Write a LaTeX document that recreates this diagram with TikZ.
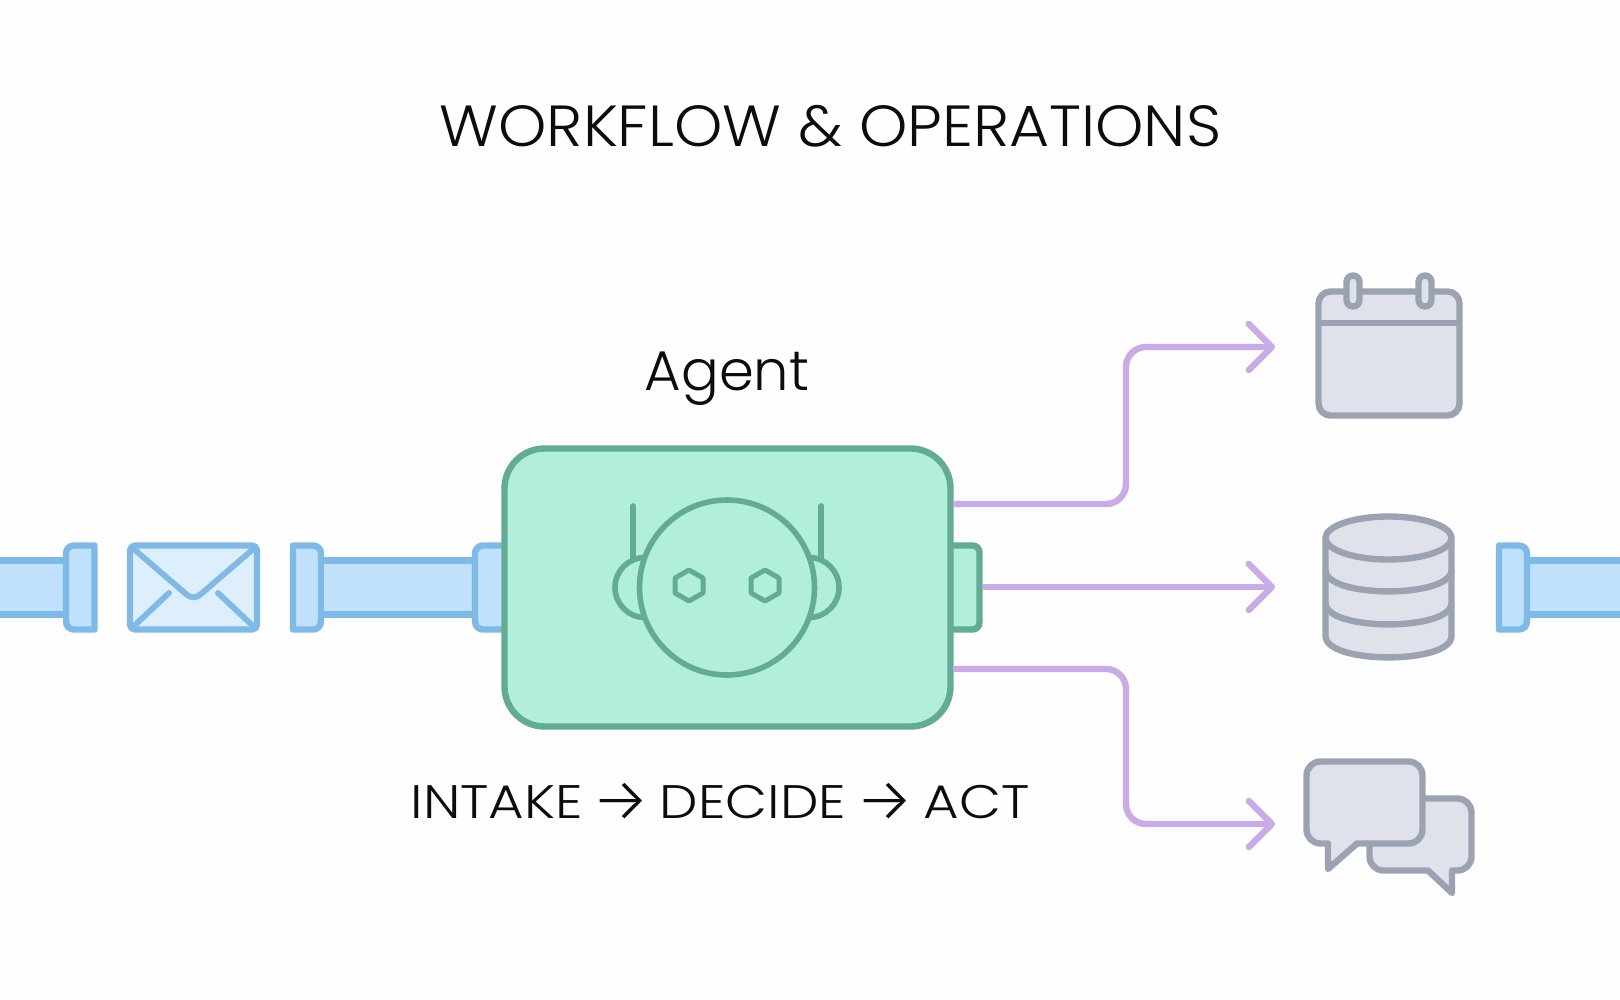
\documentclass[tikz,border=0pt]{standalone}
\usepackage{fontspec}
\setmainfont{Poppins}[UprightFont=* Light]
\newfontfamily\titlefont{Poppins}[UprightFont=* Light,FakeStretch=1.06]
\newfontfamily\stepsfont{Poppins}[UprightFont=* Light,FakeStretch=1.16]
\newfontfamily\arrowfont{Fira Sans}[UprightFont=* Light,FakeStretch=1.1]
\newcommand{\steparrow}{\raisebox{-3pt}{\arrowfont\fontsize{62}{62}\selectfont →}}
\usetikzlibrary{arrows.meta}
\definecolor{pipeline}{HTML}{7FB9E6}
\definecolor{pipefill}{HTML}{BFE1FB}
\definecolor{envfill}{HTML}{DDEFFC}
\definecolor{agentline}{HTML}{62AB94}
\definecolor{agentfill}{HTML}{B2EFD8}
\definecolor{flowline}{HTML}{C9ABE6}
\definecolor{iconline}{HTML}{9BA3B3}
\definecolor{iconfill}{HTML}{DFE2EB}
\definecolor{inkc}{HTML}{0C0C0C}
\tikzset{
  pipe/.style={draw=pipeline,fill=pipefill,line width=6.4pt,line join=round},
  envline/.style={draw=pipeline,line width=5.8pt,line cap=round,line join=round},
  agentdraw/.style={draw=agentline,line width=6.4pt,fill=agentfill},
  facedraw/.style={draw=agentline,line width=5.6pt,line cap=round,line join=round},
  flow/.style={draw=flowline,line width=6.4pt,rounded corners=20pt,-{Straight Barb[length=23pt,width=46pt,line width=6.4pt,round]}},
  icondraw/.style={draw=iconline,fill=iconfill,line width=6.4pt,line join=round},
  txt/.style={text=inkc,inner sep=0pt,anchor=base}
}
\begin{document}
\begin{tikzpicture}[x=1pt,y=-1pt]
\useasboundingbox (0,0) rectangle (1620,1000);
\fill[white!99.5!black] (0,0) rectangle (1620,1000);

% text
\node[txt,font=\titlefont\fontsize{58}{58}\selectfont] (title) at (830.5,147) {WORKFLOW \& OPERATIONS};
\node[txt,font=\fontsize{56}{56}\selectfont] (agentlabel) at (727,390) {Agent};
\node[txt,font=\stepsfont\fontsize{47}{47}\selectfont] (steps) at (720,818) {INTAKE\hspace{-7pt} \steparrow{} \hspace{-7pt}DECIDE\hspace{-7pt} \steparrow{} \hspace{-7pt}ACT};

% left pipes
\draw[pipe] (-5,560.5) rectangle (66,614.5);
\draw[pipe] (94.5,545.5) [rounded corners=8pt] -- (66,545.5) -- (66,629.5) [sharp corners] -- (94.5,629.5) -- cycle;
\node[pipe,minimum width=127pt,minimum height=84pt,rounded corners=5pt,fill=envfill,outer sep=0pt,inner sep=0pt] (mail) at (193.5,587.5) {};
\draw[envline] (mail.north west) ++(2,2) -- (186,594) .. controls (191,598.5) and (196,598.5) .. (201,594) -- (255,547.5);
\draw[envline] (169,593) -- (134,626);
\draw[envline] (218,593) -- (253,626);
\draw[pipe] (293,545.5) [rounded corners=8pt] -- (321,545.5) -- (321,629.5) [sharp corners] -- (293,629.5) -- cycle;
\draw[pipe] (321,560.5) rectangle (475,614.5);
\draw[pipe] (510,545.5) [rounded corners=8pt] -- (475,545.5) -- (475,629.5) [sharp corners] -- (510,629.5) -- cycle;

% right pipe
\draw[pipe] (1527,560.5) rectangle (1625,614.5);
\draw[pipe] (1499,545.5) [rounded corners=8pt] -- (1527,545.5) -- (1527,629.5) [sharp corners] -- (1499,629.5) -- cycle;

% agent tab and box
\node[draw=agentline,line width=6.4pt,fill=agentfill,rounded corners=7pt,minimum width=69pt,minimum height=84pt,inner sep=0pt,outer sep=0pt] (tab) at (945,587.5) {};
\node[agentdraw,rounded corners=40pt,minimum width=446pt,minimum height=278pt,inner sep=0pt,outer sep=0pt] (agent) at (727.5,587.5) {};

% robot
\draw[facedraw] (633,506) -- (633,560);
\draw[facedraw] (821,506) -- (821,560);
\draw[facedraw] (645,587.5) circle[radius=30];
\draw[facedraw] (809,587.5) circle[radius=30];
\node[facedraw,fill=agentfill,circle,minimum size=175pt,inner sep=0pt,outer sep=0pt] (face) at (727,587.5) {};
\draw[facedraw,line width=5pt] (689,570) -- (703,578) -- (703,593) -- (689,601) -- (675,593) -- (675,578) -- cycle;
\draw[facedraw,line width=5pt] (765,570) -- (779,578) -- (779,593) -- (765,601) -- (751,593) -- (751,578) -- cycle;

% connectors
\coordinate (out1) at (953,504);
\coordinate (out2) at (983,587);
\coordinate (out3) at (953,669);
\coordinate (tip1) at (1275,347);
\coordinate (tip2) at (1275,587);
\coordinate (tip3) at (1275,824);
\draw[flow] (out1) -- (1126,504) -- (1126,347) -- (tip1);
\draw[flow] (out2) -- (tip2);
\draw[flow] (out3) -- (1126,669) -- (1126,824) -- (tip3);

% calendar
\node[icondraw,rounded corners=12pt,minimum width=141pt,minimum height=124pt,inner sep=0pt,outer sep=0pt] (calendar) at (1389,353.5) {};
\draw[icondraw] (calendar.west |- 0,323) -- (calendar.east |- 0,323);
\draw[icondraw,rounded corners=6.5pt] (1346.5,275.5) rectangle (1359.5,306.5);
\draw[icondraw,rounded corners=6.5pt] (1418.5,275.5) rectangle (1431.5,306.5);

% database
\draw[icondraw] (1325.5,538) -- (1325.5,636) .. controls (1325.5,664.5) and (1451.5,664.5) .. (1451.5,636) -- (1451.5,538) -- cycle;
\draw[icondraw,fill=none] (1325.5,570) .. controls (1325.5,598.5) and (1451.5,598.5) .. (1451.5,570);
\draw[icondraw,fill=none] (1325.5,603) .. controls (1325.5,631.5) and (1451.5,631.5) .. (1451.5,603);
\coordinate (dbtop) at (1388.5,538);
\draw[icondraw] (dbtop) ellipse[x radius=63,y radius=21.5];

% chat
\draw[icondraw,rounded corners=14pt] (1369.5,830) -- (1369.5,870.5) [sharp corners] -- (1428,870.5) -- (1452,893) -- (1452,870.5) [rounded corners=14pt] -- (1471.5,870.5) -- (1471.5,798.5) -- (1400,798.5);
\draw[icondraw] (1357,843.5) -- (1328,869) -- (1328,843.5) [rounded corners=14pt] -- (1306.5,843.5) -- (1306.5,761.5) -- (1422.5,761.5) -- (1422.5,843.5) [sharp corners] -- cycle;
\end{tikzpicture}
\end{document}
